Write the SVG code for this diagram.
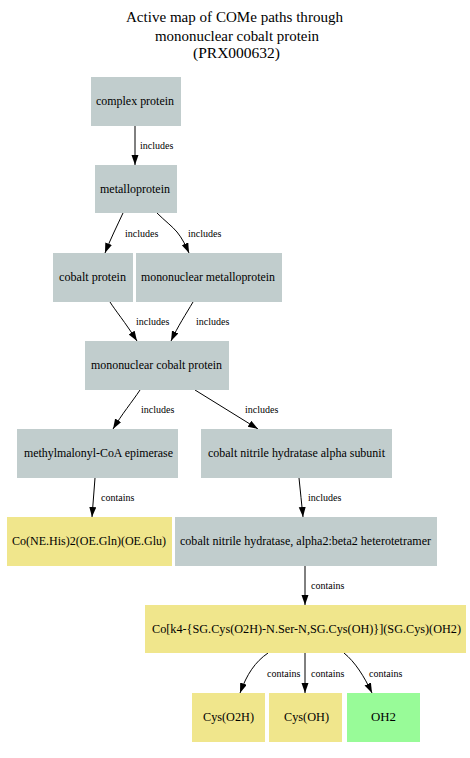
<svg xmlns="http://www.w3.org/2000/svg" width="470" height="758" viewBox="0 0 470 758">
<style>
.t{font-family:"Liberation Serif","Times New Roman",serif;font-size:14px;fill:#000}
.n{font-family:"Liberation Serif","Times New Roman",serif;font-size:12px;fill:#000}
.l{font-family:"Liberation Serif","Times New Roman",serif;font-size:10px;fill:#000}
.g{fill:#c1cdcd}
.y{fill:#f0e68c}
.p{fill:#98fb98}
.e{fill:none;stroke:#000;stroke-width:1;marker-end:url(#a)}
</style>
<defs>
<marker id="a" markerUnits="userSpaceOnUse" markerWidth="10" markerHeight="8" refX="10" refY="3.5" orient="auto">
<path d="M0,0 L10,3.5 L0,7 z" fill="#000"/>
</marker>
</defs>
<rect width="470" height="758" fill="#fff"/>
<g id="title">
<text class="t" x="126" y="22" textLength="217" lengthAdjust="spacingAndGlyphs">Active map of COMe paths through</text>
<text class="t" x="155" y="41" textLength="164" lengthAdjust="spacingAndGlyphs">mononuclear cobalt protein</text>
<text class="t" x="193" y="58" textLength="87" lengthAdjust="spacingAndGlyphs">(PRX000632)</text>
</g>
<g id="edges">
<path class="e" d="M135,126 L135,165"/>
<text class="l" x="140" y="149">includes</text>
<path class="e" d="M123,213 C117,226 110,240 105,253"/>
<text class="l" x="125" y="237">includes</text>
<path class="e" d="M157,213 C165,221 172,226 177,232 C182,238 186,246 189,253"/>
<text class="l" x="188" y="237">includes</text>
<path class="e" d="M110,302 C115,310 125,322 137,341"/>
<text class="l" x="136" y="325">includes</text>
<path class="e" d="M193,302 C186,314 178,326 171,341"/>
<text class="l" x="196" y="325">includes</text>
<path class="e" d="M140,390 C132,402 122,414 113,429"/>
<text class="l" x="141" y="413">includes</text>
<path class="e" d="M195,390 L258,429"/>
<text class="l" x="245" y="413">includes</text>
<path class="e" d="M95,478 C94,491 93,504 92,517"/>
<text class="l" x="101" y="501">contains</text>
<path class="e" d="M299,478 C300,491 302,504 303,517"/>
<text class="l" x="308" y="501">includes</text>
<path class="e" d="M305,566 L305,605"/>
<text class="l" x="311" y="589">contains</text>
<path class="e" d="M268,653 C255,662 247,674 240,693"/>
<text class="l" x="267" y="677">contains</text>
<path class="e" d="M305,653 L305,693"/>
<text class="l" x="311" y="677">contains</text>
<path class="e" d="M344,653 C355,662 364,676 372,693"/>
<text class="l" x="369" y="677">contains</text>
</g>
<g id="complex_protein"><rect class="g" x="91" y="77" width="90" height="49"/><text class="n" x="96" y="105" textLength="78" lengthAdjust="spacingAndGlyphs">complex protein</text></g>
<g id="metalloprotein"><rect class="g" x="95" y="165" width="82" height="48"/><text class="n" x="100" y="193" textLength="70" lengthAdjust="spacingAndGlyphs">metalloprotein</text></g>
<g id="cobalt_protein"><rect class="g" x="53" y="253" width="80" height="49"/><text class="n" x="59" y="281" textLength="67" lengthAdjust="spacingAndGlyphs">cobalt protein</text></g>
<g id="mononuclear_metalloprotein"><rect class="g" x="136" y="253" width="146" height="49"/><text class="n" x="141" y="281" textLength="134" lengthAdjust="spacingAndGlyphs">mononuclear metalloprotein</text></g>
<g id="mononuclear_cobalt_protein"><rect class="g" x="85" y="341" width="144" height="49"/><text class="n" x="91" y="369" textLength="131" lengthAdjust="spacingAndGlyphs">mononuclear cobalt protein</text></g>
<g id="methylmalonyl_coa_epimerase"><rect class="g" x="17" y="429" width="161" height="49"/><text class="n" x="24" y="457" textLength="149" lengthAdjust="spacingAndGlyphs">methylmalonyl-CoA epimerase</text></g>
<g id="nitrile_alpha"><rect class="g" x="201" y="429" width="191" height="49"/><text class="n" x="208" y="457" textLength="177" lengthAdjust="spacingAndGlyphs">cobalt nitrile hydratase alpha subunit</text></g>
<g id="co_ne_his"><rect class="y" x="7" y="517" width="165" height="49"/><text class="n" x="12" y="545" textLength="154" lengthAdjust="spacingAndGlyphs">Co(NE.His)2(OE.Gln)(OE.Glu)</text></g>
<g id="heterotetramer"><rect class="g" x="175" y="517" width="262" height="49"/><text class="n" x="180" y="545" textLength="251" lengthAdjust="spacingAndGlyphs">cobalt nitrile hydratase, alpha2:beta2 heterotetramer</text></g>
<g id="co_k4"><rect class="y" x="145" y="605" width="321" height="48"/><text class="n" x="152" y="633" textLength="309" lengthAdjust="spacingAndGlyphs">Co[k4-{SG.Cys(O2H)-N.Ser-N,SG.Cys(OH)}](SG.Cys)(OH2)</text></g>
<g id="cys_o2h"><rect class="y" x="192" y="693" width="73" height="49"/><text class="n" x="203" y="721" textLength="51" lengthAdjust="spacingAndGlyphs">Cys(O2H)</text></g>
<g id="cys_oh"><rect class="y" x="269" y="693" width="73" height="49"/><text class="n" x="284" y="721" textLength="45" lengthAdjust="spacingAndGlyphs">Cys(OH)</text></g>
<g id="oh2"><rect class="p" x="347" y="693" width="73" height="49"/><text class="n" x="371" y="721" textLength="25" lengthAdjust="spacingAndGlyphs">OH2</text></g>
</svg>
